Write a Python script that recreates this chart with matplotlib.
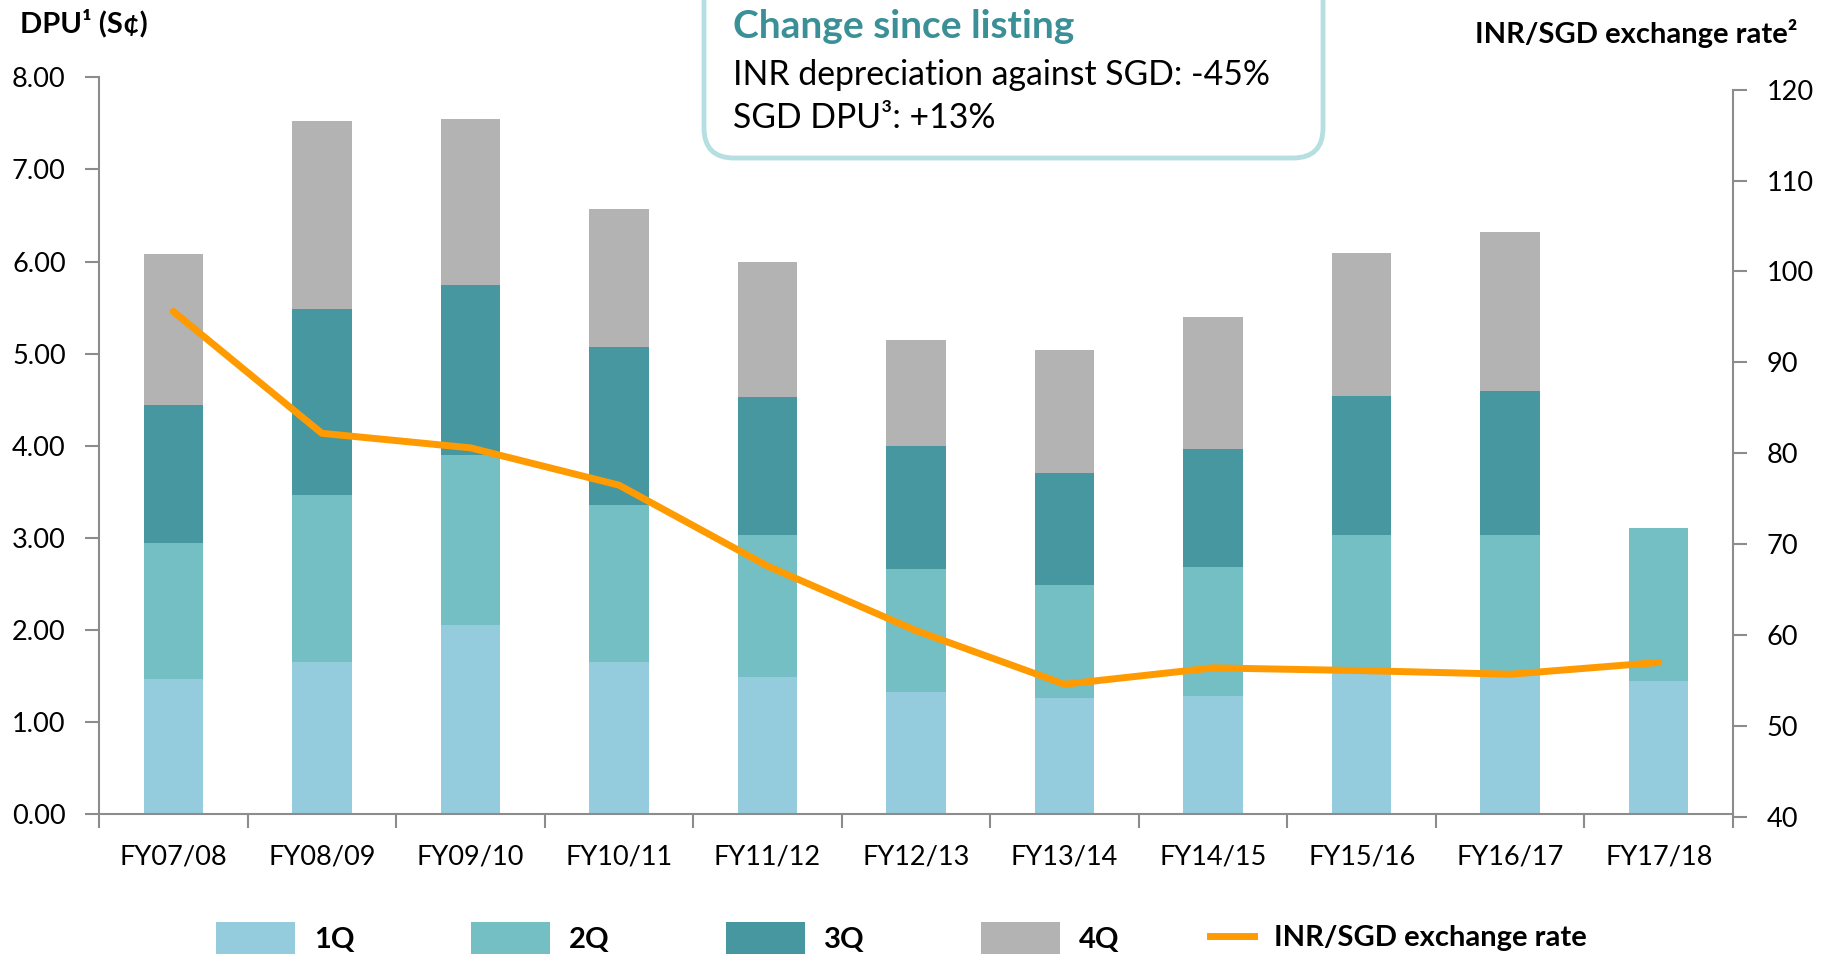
import numpy as np
import matplotlib.pyplot as plt
from matplotlib.patches import FancyBboxPatch, Patch
from matplotlib.lines import Line2D

plt.rcParams['font.family'] = ['Lato', 'DejaVu Sans']

# ---------------- data ----------------
years = ['FY07/08', 'FY08/09', 'FY09/10', 'FY10/11', 'FY11/12', 'FY12/13',
         'FY13/14', 'FY14/15', 'FY15/16', 'FY16/17', 'FY17/18']
dpu_1q = [1.47, 1.65, 2.06, 1.65, 1.49, 1.33, 1.26, 1.28, 1.55, 1.52, 1.45]
dpu_2q = [1.48, 1.82, 1.84, 1.71, 1.54, 1.33, 1.23, 1.40, 1.48, 1.51, 1.66]
dpu_3q = [1.49, 2.01, 1.85, 1.71, 1.50, 1.34, 1.22, 1.28, 1.51, 1.56, 0.0]
dpu_4q = [1.64, 2.05, 1.80, 1.50, 1.46, 1.15, 1.33, 1.44, 1.55, 1.73, 0.0]
inr_sgd = [95.6, 82.2, 80.6, 76.5, 67.6, 60.5, 54.6, 56.4, 56.1, 55.7, 57.0]

quarters = ['1Q', '2Q', '3Q', '4Q']
q_colors = ['#95CCDD', '#74BFC4', '#46979F', '#B3B3B3']
line_color = '#FF9A00'
spine_color = '#8C8C8C'

# ---------------- figure ----------------
W, H = 1824, 960
fig = plt.figure(figsize=(W / 100, H / 100), dpi=100)

x0, x1 = 99 / W, 1733 / W
ax = fig.add_axes([x0, 1 - 814.3 / H, x1 - x0, (814.3 - 77.3) / H])

x = np.arange(len(years))
bottom = np.zeros(len(years))
for vals, col in zip([dpu_1q, dpu_2q, dpu_3q, dpu_4q], q_colors):
    ax.bar(x, vals, width=0.4, bottom=bottom, color=col, linewidth=0, zorder=2)
    bottom += np.array(vals)

ax.set_xlim(-0.5, len(years) - 0.5)
ax.set_ylim(0, 8)
ax.set_yticks(np.arange(0, 9, 1))
ax.set_yticklabels([f'{v:.2f}' for v in np.arange(0, 9, 1)])
ax.set_xticks(x)
ax.set_xticklabels(years)
ax.set_xticks(np.arange(-0.5, len(years), 1), minor=True)
ax.tick_params(axis='x', which='major', length=0, pad=22, labelsize=19.5)
ax.tick_params(axis='x', which='minor', length=10, width=1.5, color=spine_color)
ax.tick_params(axis='y', length=10, width=1.5, color=spine_color, pad=14, labelsize=19.5)
for s in ['top', 'right']:
    ax.spines[s].set_visible(False)
for s in ['left', 'bottom']:
    ax.spines[s].set_color(spine_color)
    ax.spines[s].set_linewidth(1.5)

# right axis: exchange rate
ax2 = fig.add_axes([x0, 1 - 817 / H, x1 - x0, (817 - 89.6) / H])
ax2.patch.set_visible(False)
ax2.plot(x, inr_sgd, color=line_color, linewidth=5, solid_capstyle='round', zorder=3)
ax2.set_xlim(-0.5, len(years) - 0.5)
ax2.set_ylim(40, 120)
ax2.set_yticks(np.arange(40, 121, 10))
ax2.yaxis.tick_right()
ax2.set_xticks([])
ax2.tick_params(axis='y', length=10, width=1.5, color=spine_color, pad=14, labelsize=19.5)
for s in ['top', 'left', 'bottom']:
    ax2.spines[s].set_visible(False)
ax2.spines['right'].set_color(spine_color)
ax2.spines['right'].set_linewidth(1.5)

# axis titles
fig.text(20 / W, 1 - 23 / H, 'DPU¹ (S¢)', fontsize=21, fontweight='bold', ha='left', va='center')
fig.text(1798 / W, 1 - 33 / H, 'INR/SGD exchange rate²', fontsize=21, fontweight='bold',
         ha='right', va='center')

# callout box
box = FancyBboxPatch((7.04, 8.02), 6.19, 2.0, boxstyle='round,pad=0,rounding_size=0.3',
                     transform=fig.dpi_scale_trans, facecolor='white', edgecolor='#B6DFE2',
                     linewidth=3.5, clip_on=False)
fig.patches.append(box)
fig.text(733 / W, 1 - 27 / H, 'Change since listing', fontsize=28, fontweight='bold',
         color='#3A9096', ha='left', va='center')
fig.text(733 / W, 1 - 75 / H, 'INR depreciation against SGD: -45%', fontsize=24.3,
         ha='left', va='center')
fig.text(733 / W, 1 - 118 / H, 'SGD DPU³: +13%', fontsize=24.3, ha='left', va='center')

# legend
handles = [Patch(facecolor=c, edgecolor='none') for c in q_colors]
leg1 = fig.legend(handles, quarters, loc='center left', bbox_to_anchor=(216 / W, 1 - 938 / H),
                  ncol=4, frameon=False, prop={'weight': 'bold', 'size': 21},
                  handlelength=2.7, handleheight=1.3, handletextpad=0.65,
                  columnspacing=4.0, borderpad=0, borderaxespad=0)
leg2 = fig.legend([Line2D([0], [0], color=line_color, linewidth=5)], ['INR/SGD exchange rate'],
                  loc='center left', bbox_to_anchor=(1210 / W, 1 - 938 / H), frameon=False,
                  prop={'weight': 'bold', 'size': 21}, handlelength=1.5,
                  handletextpad=0.7, borderpad=0, borderaxespad=0)

fig.savefig('out.png', dpi=100)
